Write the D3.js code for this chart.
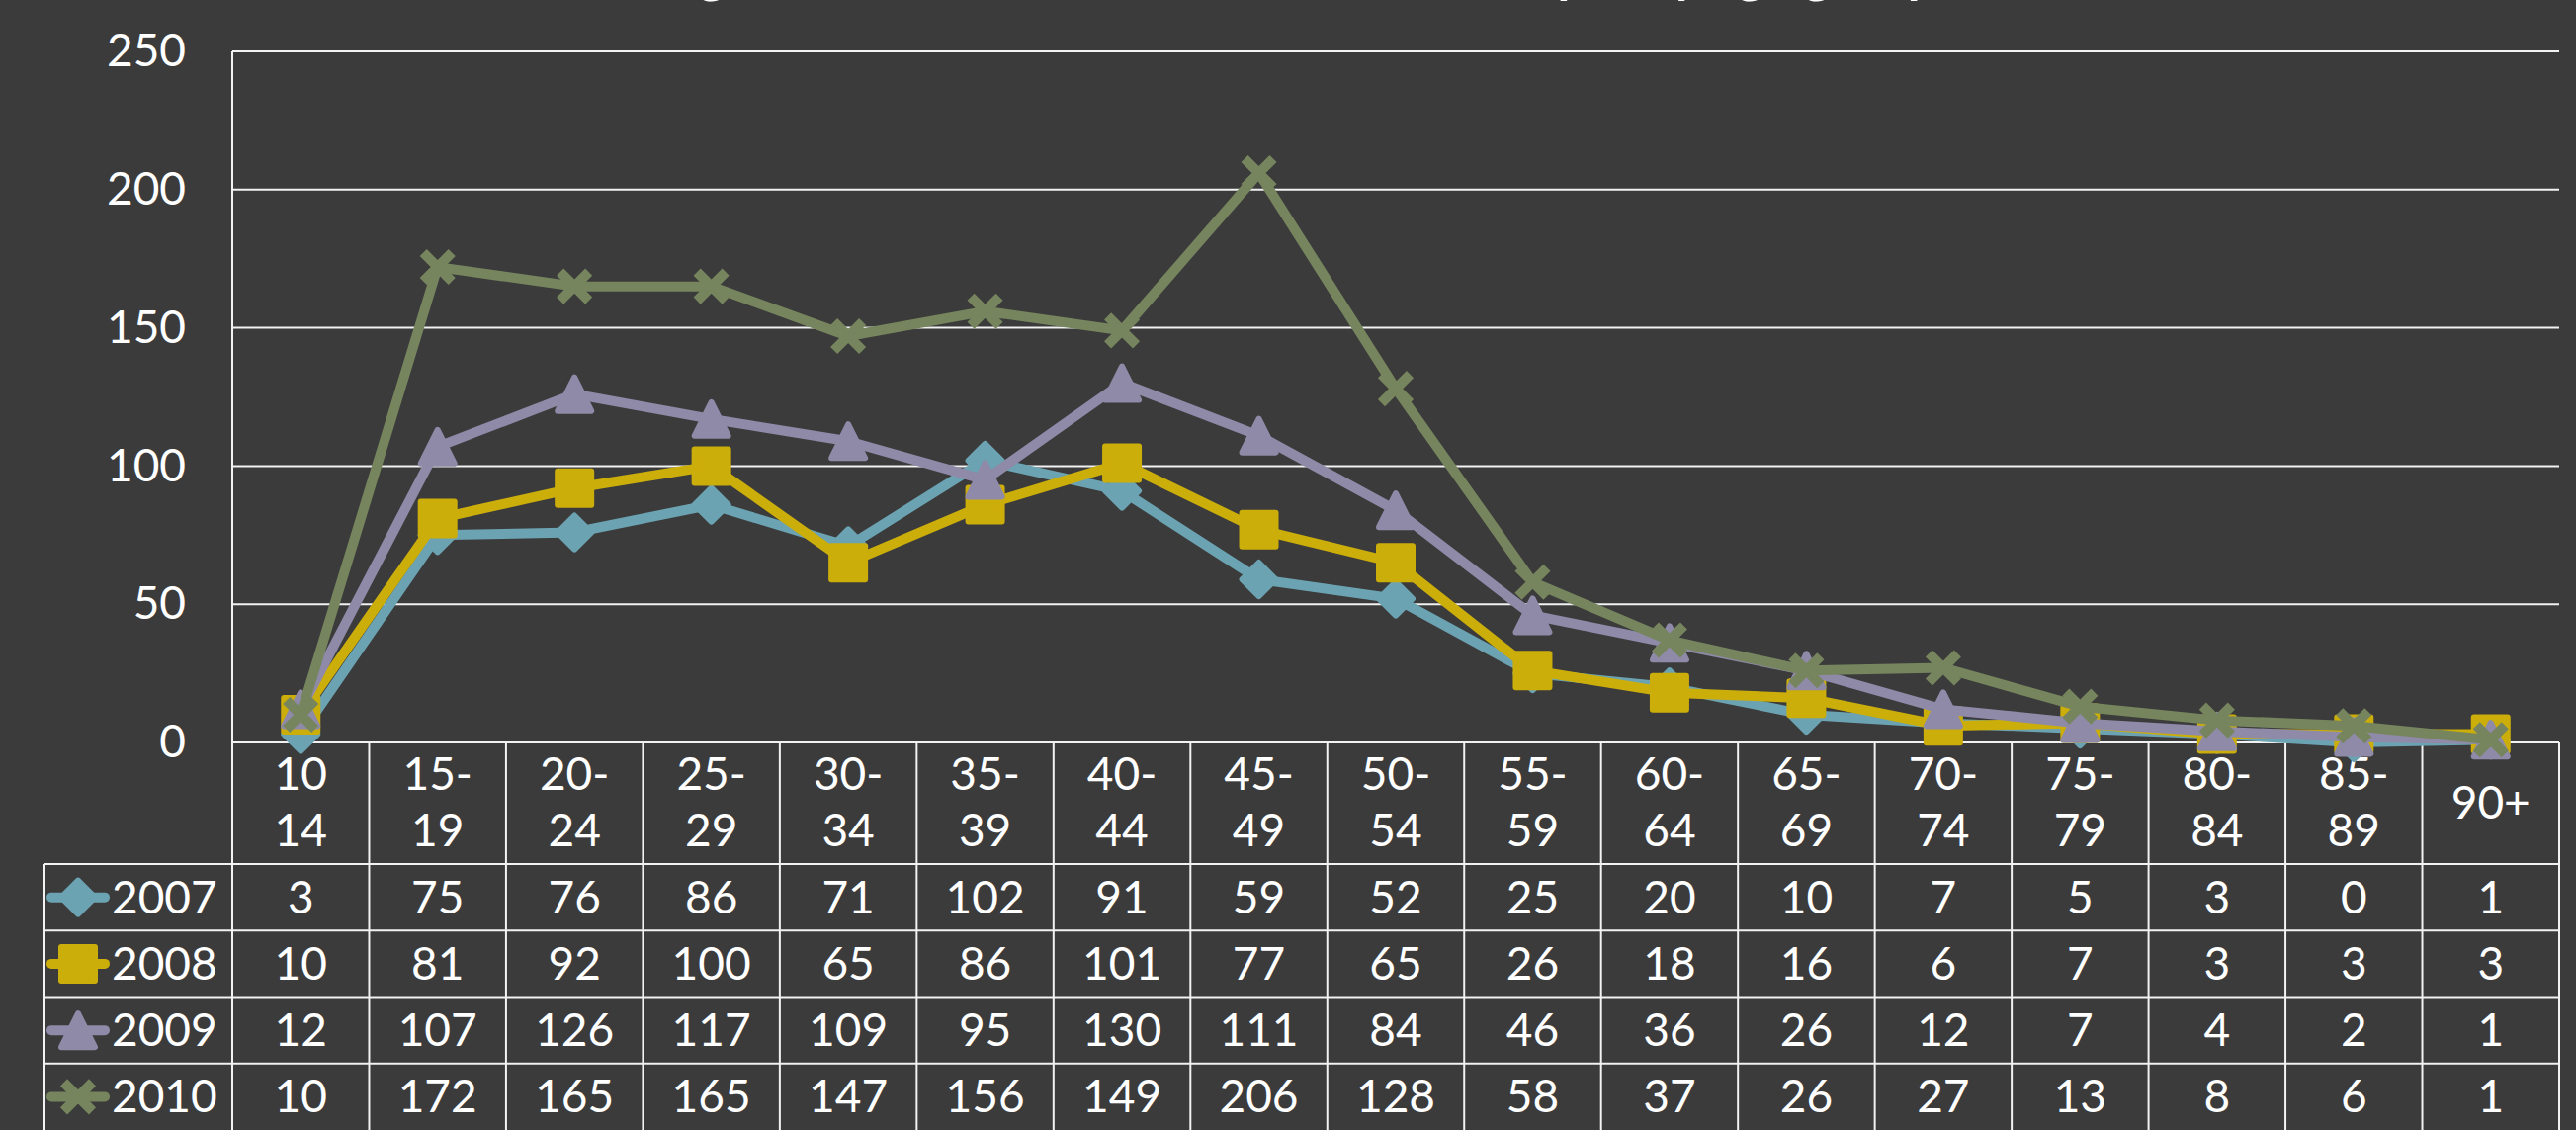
<!DOCTYPE html>
<html>
<head>
<meta charset="utf-8">
<style>
  body { margin: 0; background: #3b3b3b; }
  svg { display: block; font-family: Lato, "Open Sans", sans-serif; }
</style>
</head>
<body>
<div id="chart"></div>
<script src="https://d3js.org/d3.v7.min.js"></script>
<script>
// data
var ageGroups = ["10-14", "15-19", "20-24", "25-29", "30-34", "35-39", "40-44", "45-49", "50-54",
                 "55-59", "60-64", "65-69", "70-74", "75-79", "80-84", "85-89", "90+"];
var headerLabels = [["10", "14"], ["15-", "19"], ["20-", "24"], ["25-", "29"], ["30-", "34"], ["35-", "39"],
                    ["40-", "44"], ["45-", "49"], ["50-", "54"], ["55-", "59"], ["60-", "64"], ["65-", "69"],
                    ["70-", "74"], ["75-", "79"], ["80-", "84"], ["85-", "89"], ["90+"]];
var years = ["2007", "2008", "2009", "2010"];
var values2007 = [3, 75, 76, 86, 71, 102, 91, 59, 52, 25, 20, 10, 7, 5, 3, 0, 1];
var values2008 = [10, 81, 92, 100, 65, 86, 101, 77, 65, 26, 18, 16, 6, 7, 3, 3, 3];
var values2009 = [12, 107, 126, 117, 109, 95, 130, 111, 84, 46, 36, 26, 12, 7, 4, 2, 1];
var values2010 = [10, 172, 165, 165, 147, 156, 149, 206, 128, 58, 37, 26, 27, 13, 8, 6, 1];
var yTicks = [0, 50, 100, 150, 200, 250];
var title = "Registered new HIV cases, 2007-2010, split by age group";

var W = 2606, H = 1143;
var plotLeft = 235, plotRight = 2589, plotTop = 52, zeroY = 751;
var headerBottom = 874, tableBottom = 1143, legendLeft = 45;
var fsize = 46;
var lineColor = "#f2f2f2";

var series = [
  {year: "2007", values: values2007, color: "#6ca3b2", shape: "diamond"},
  {year: "2008", values: values2008, color: "#ccae0b", shape: "square"},
  {year: "2009", values: values2009, color: "#8e8aa8", shape: "triangle"},
  {year: "2010", values: values2010, color: "#76855e", shape: "cross"}
];

var svg = d3.select("#chart").append("svg")
    .attr("width", W)
    .attr("height", H);

svg.append("rect").attr("width", W).attr("height", H).attr("fill", "#3b3b3b");

var x = d3.scaleBand().domain(ageGroups).range([plotLeft, plotRight]);
var y = d3.scaleLinear().domain([0, 250]).range([zeroY, plotTop]);
var row = d3.scaleBand().domain(years).range([headerBottom, tableBottom]);
function cx(d) { return x(d) + x.bandwidth() / 2; }

// title, mostly above the visible area
svg.append("text")
    .attr("x", W / 2)
    .attr("y", -8)
    .attr("text-anchor", "middle")
    .attr("fill", "#fff")
    .style("font-weight", "bold")
    .style("font-size", "52px")
    .text(title);

// gridlines
svg.append("g")
  .selectAll("line")
  .data(yTicks)
  .enter().append("line")
    .attr("x1", plotLeft)
    .attr("x2", plotRight)
    .attr("y1", function(d) { return y(d); })
    .attr("y2", function(d) { return y(d); })
    .attr("stroke", lineColor)
    .attr("stroke-width", 2);

// y axis labels
svg.append("g")
    .attr("transform", "translate(" + plotLeft + ",0)")
    .style("font-size", fsize + "px")
    .style("font-family", "Lato, sans-serif")
    .call(d3.axisLeft(y).tickValues(yTicks).tickSize(0).tickPadding(47))
    .call(function(g) { g.select(".domain").remove(); })
    .selectAll("text")
      .attr("fill", "#fff");

// data table: grid
var table = svg.append("g").attr("stroke", lineColor).attr("stroke-width", 2);
table.append("line").attr("x1", plotLeft).attr("x2", plotLeft).attr("y1", plotTop).attr("y2", tableBottom);
table.selectAll(".vline")
  .data(ageGroups)
  .enter().append("line")
    .attr("x1", function(d) { return x(d) + x.bandwidth(); })
    .attr("x2", function(d) { return x(d) + x.bandwidth(); })
    .attr("y1", zeroY)
    .attr("y2", tableBottom);
table.append("line").attr("x1", legendLeft).attr("x2", legendLeft).attr("y1", headerBottom).attr("y2", tableBottom);
table.selectAll(".hline")
  .data(years)
  .enter().append("line")
    .attr("x1", legendLeft)
    .attr("x2", plotRight)
    .attr("y1", function(d) { return row(d); })
    .attr("y2", function(d) { return row(d); });

// header labels
var header = svg.append("g")
    .attr("fill", "#fff")
    .attr("text-anchor", "middle")
    .style("font-size", fsize + "px");
header.selectAll("text")
  .data(ageGroups)
  .enter().append("text")
    .attr("x", cx)
    .attr("y", function(d, i) { return headerLabels[i].length > 1 ? 783 : 812; })
    .each(function(d, i) {
      var t = d3.select(this);
      headerLabels[i].forEach(function(s, k) {
        t.append("tspan").attr("x", cx(d)).attr("dy", k === 0 ? "0.35em" : "57px").text(s);
      });
    });

// table values
var cells = svg.append("g")
    .attr("fill", "#fff")
    .attr("text-anchor", "middle")
    .style("font-size", fsize + "px");
series.forEach(function(s) {
  cells.selectAll(null)
    .data(s.values)
    .enter().append("text")
      .attr("x", function(d, i) { return cx(ageGroups[i]); })
      .attr("y", row(s.year) + row.bandwidth() / 2)
      .attr("dy", "0.35em")
      .text(function(d) { return d; });
});

// marker shapes
function markerPath(shape) {
  if (shape === "diamond") return "M0,-17L17,0L0,17L-17,0Z";
  if (shape === "square") return "M-17,-17H17V17H-17Z";
  if (shape === "triangle") return "M0,-17L17,17H-17Z";
  return "M-14.5,-14.5L14.5,14.5M14.5,-14.5L-14.5,14.5";
}
function drawMarker(sel, s) {
  if (s.shape === "cross") {
    sel.attr("d", markerPath(s.shape))
      .attr("fill", "none")
      .attr("stroke", s.color)
      .attr("stroke-width", 10);
  } else {
    sel.attr("d", markerPath(s.shape))
      .attr("fill", s.color)
      .attr("stroke", s.color)
      .attr("stroke-width", 6)
      .attr("stroke-linejoin", "round");
  }
}

var line = d3.line()
    .x(function(d, i) { return cx(ageGroups[i]); })
    .y(function(d) { return y(d); });

// series lines + markers
series.forEach(function(s) {
  var g = svg.append("g");
  g.append("path")
    .datum(s.values)
    .attr("d", line)
    .attr("fill", "none")
    .attr("stroke", s.color)
    .attr("stroke-width", 10)
    .attr("stroke-linejoin", "round")
    .attr("stroke-linecap", "round");
  g.selectAll("path.m")
    .data(s.values)
    .enter().append("path")
      .attr("class", "m")
      .attr("transform", function(d, i) { return "translate(" + cx(ageGroups[i]) + "," + y(d) + ")"; })
      .call(drawMarker, s);
});

// legend keys in table rows
series.forEach(function(s) {
  var ry = row(s.year) + row.bandwidth() / 2;
  var g = svg.append("g");
  g.append("line")
    .attr("x1", 52).attr("x2", 106)
    .attr("y1", ry).attr("y2", ry)
    .attr("stroke", s.color)
    .attr("stroke-width", 10)
    .attr("stroke-linecap", "round");
  g.append("path")
    .attr("transform", "translate(79," + ry + ")")
    .call(drawMarker, s);
  g.append("text")
    .attr("x", 113)
    .attr("y", ry)
    .attr("dy", "0.35em")
    .attr("fill", "#fff")
    .style("font-size", fsize + "px")
    .text(s.year);
});
</script>
</body>
</html>
